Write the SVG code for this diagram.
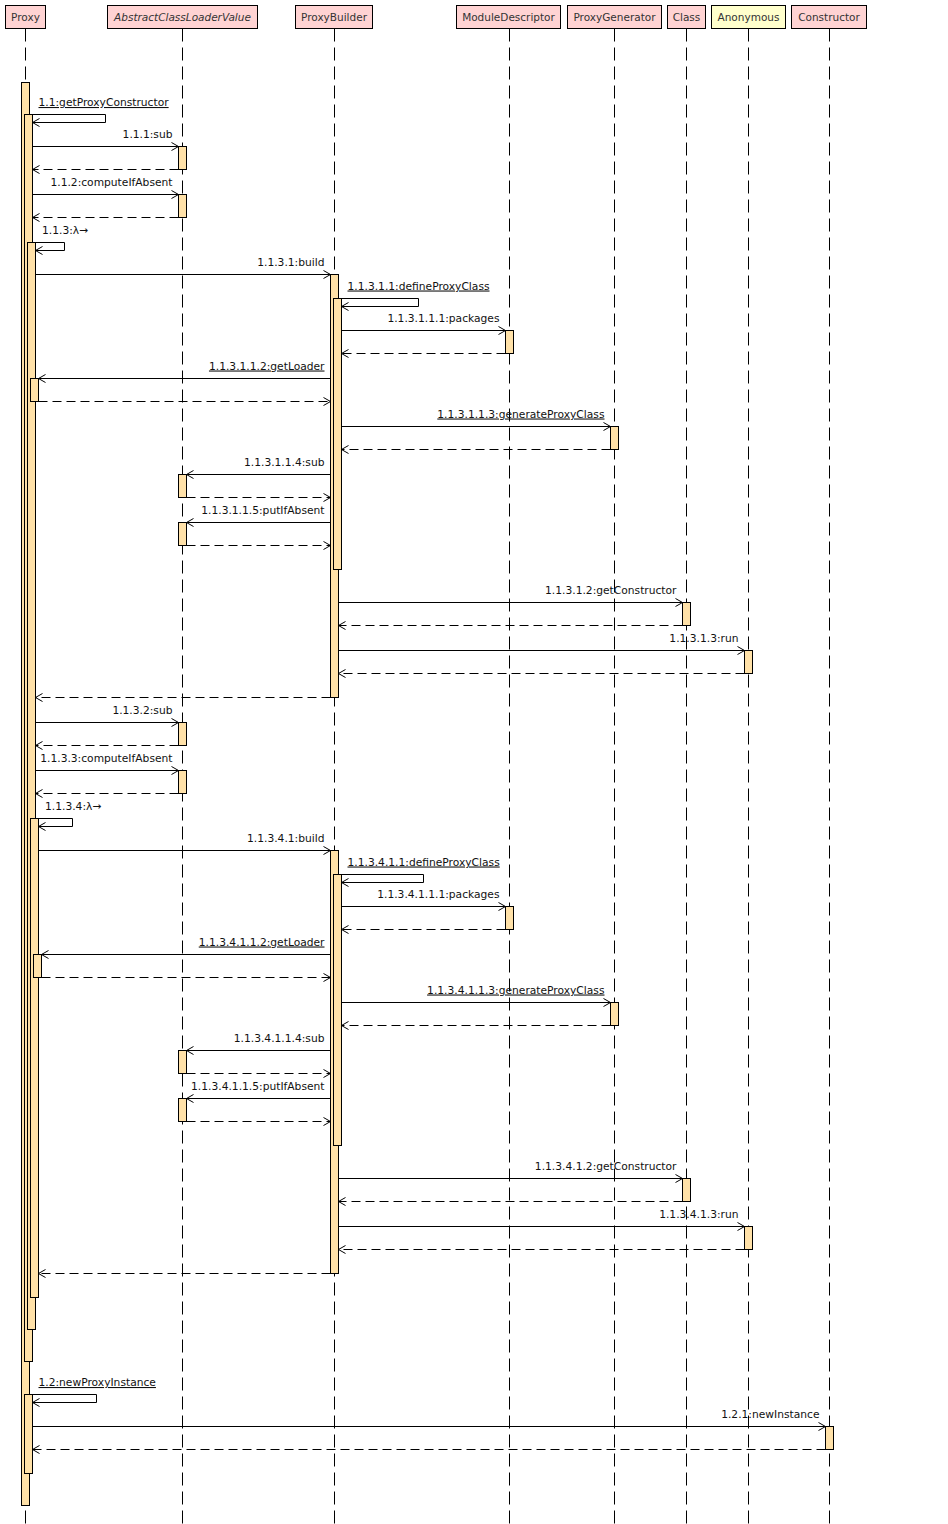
<svg xmlns="http://www.w3.org/2000/svg" width="948" height="1524" viewBox="0 0 948 1524">
<style>
.hd{fill:#FFD3D3;stroke:#000;stroke-width:1}
.hy{fill:#FFFFCC;stroke:#000;stroke-width:1}
.ht{font-family:"DejaVu Sans",sans-serif;font-size:10.5px;fill:#333;text-anchor:middle}
.ll{stroke:#000;stroke-width:1;stroke-dasharray:13 6;fill:none}
.bar{fill:#FFE1A8;stroke:#000;stroke-width:1}
.m{stroke:#000;stroke-width:1;fill:none;marker-end:url(#arr)}
.r{stroke:#000;stroke-width:1;fill:none;stroke-dasharray:9 5;marker-end:url(#arr)}
.t{font-family:"DejaVu Sans",sans-serif;font-size:10.7px;fill:#111}
.e{text-anchor:end}
.u{text-decoration:underline}
</style>
<defs>
<marker id="arr" markerUnits="userSpaceOnUse" markerWidth="10" markerHeight="10" viewBox="-8 -5 10 10" refX="0" refY="0" orient="auto" overflow="visible">
<path d="M-7,-4 L0,0 L-7,4" fill="none" stroke="#000" stroke-width="1"/>
</marker>
</defs>
<rect width="948" height="1524" fill="#fff"/>
<g id="lifelines">
<line class="ll" x1="25.5" y1="28.5" x2="25.5" y2="1524"/>
<line class="ll" x1="182.5" y1="28.5" x2="182.5" y2="1524"/>
<line class="ll" x1="334.5" y1="28.5" x2="334.5" y2="1524"/>
<line class="ll" x1="509.5" y1="28.5" x2="509.5" y2="1524"/>
<line class="ll" x1="614.5" y1="28.5" x2="614.5" y2="1524"/>
<line class="ll" x1="686.5" y1="28.5" x2="686.5" y2="1524"/>
<line class="ll" x1="748.5" y1="28.5" x2="748.5" y2="1524"/>
<line class="ll" x1="829.5" y1="28.5" x2="829.5" y2="1524"/>
</g>
<g id="Proxy">
<rect class="hd" x="5.5" y="5.5" width="40" height="23"/>
<text class="ht" x="25.5" y="21">Proxy</text>
<rect class="bar" x="21.5" y="82.5" width="8" height="1423"/>
<rect class="bar" x="24.5" y="114.5" width="8" height="1247"/>
<rect class="bar" x="27.5" y="242.5" width="8" height="1087"/>
<rect class="bar" x="30.5" y="378.5" width="8" height="23"/>
<rect class="bar" x="30.5" y="818.5" width="8" height="479"/>
<rect class="bar" x="33.5" y="954.5" width="8" height="23"/>
<rect class="bar" x="24.5" y="1394.5" width="8" height="79"/>
</g>
<g id="AbstractClassLoaderValue">
<rect class="hd" x="107.5" y="5.5" width="150" height="23"/>
<text class="ht" x="182.5" y="21" font-style="italic">AbstractClassLoaderValue</text>
<rect class="bar" x="178.5" y="146.5" width="8" height="23"/>
<rect class="bar" x="178.5" y="194.5" width="8" height="23"/>
<rect class="bar" x="178.5" y="474.5" width="8" height="23"/>
<rect class="bar" x="178.5" y="522.5" width="8" height="23"/>
<rect class="bar" x="178.5" y="722.5" width="8" height="23"/>
<rect class="bar" x="178.5" y="770.5" width="8" height="23"/>
<rect class="bar" x="178.5" y="1050.5" width="8" height="23"/>
<rect class="bar" x="178.5" y="1098.5" width="8" height="23"/>
</g>
<g id="ProxyBuilder">
<rect class="hd" x="295.5" y="5.5" width="77" height="23"/>
<text class="ht" x="334" y="21">ProxyBuilder</text>
<rect class="bar" x="330.5" y="274.5" width="8" height="423"/>
<rect class="bar" x="333.5" y="298.5" width="8" height="271"/>
<rect class="bar" x="330.5" y="850.5" width="8" height="423"/>
<rect class="bar" x="333.5" y="874.5" width="8" height="271"/>
</g>
<g id="ModuleDescriptor">
<rect class="hd" x="456.5" y="5.5" width="104" height="23"/>
<text class="ht" x="508.5" y="21">ModuleDescriptor</text>
<rect class="bar" x="505.5" y="330.5" width="8" height="23"/>
<rect class="bar" x="505.5" y="906.5" width="8" height="23"/>
</g>
<g id="ProxyGenerator">
<rect class="hd" x="567.5" y="5.5" width="94" height="23"/>
<text class="ht" x="614.5" y="21">ProxyGenerator</text>
<rect class="bar" x="610.5" y="426.5" width="8" height="23"/>
<rect class="bar" x="610.5" y="1002.5" width="8" height="23"/>
</g>
<g id="Class">
<rect class="hd" x="667.5" y="5.5" width="38" height="23"/>
<text class="ht" x="686.5" y="21">Class</text>
<rect class="bar" x="682.5" y="602.5" width="8" height="23"/>
<rect class="bar" x="682.5" y="1178.5" width="8" height="23"/>
</g>
<g id="Anonymous">
<rect class="hy" x="711.5" y="5.5" width="74" height="23"/>
<text class="ht" x="748.5" y="21">Anonymous</text>
<rect class="bar" x="744.5" y="650.5" width="8" height="23"/>
<rect class="bar" x="744.5" y="1226.5" width="8" height="23"/>
</g>
<g id="Constructor">
<rect class="hd" x="791.5" y="5.5" width="75" height="23"/>
<text class="ht" x="829" y="21">Constructor</text>
<rect class="bar" x="825.5" y="1426.5" width="8" height="23"/>
</g>
<g id="connectors">
<path class="m" d="M29.5,114.5 H105.5 V122.5 H32.5"/>
<text class="t u" x="38.5" y="106">1.1:getProxyConstructor</text>
<path class="m" d="M32.5,146.5 H178.5"/>
<text class="t e" x="172.5" y="137.5">1.1.1:sub</text>
<path class="r" d="M178.5,169.5 H32.5"/>
<path class="m" d="M32.5,194.5 H178.5"/>
<text class="t e" x="172.5" y="185.5">1.1.2:computeIfAbsent</text>
<path class="r" d="M178.5,217.5 H32.5"/>
<path class="m" d="M32.5,242.5 H64.5 V250.5 H35.5"/>
<text class="t" x="42" y="233.5">1.1.3:λ→</text>
<path class="m" d="M35.5,274.5 H330.5"/>
<text class="t e" x="324.5" y="265.5">1.1.3.1:build</text>
<path class="m" d="M338.5,298.5 H418.5 V306.5 H341.5"/>
<text class="t u" x="347.5" y="289.5">1.1.3.1.1:defineProxyClass</text>
<path class="m" d="M341.5,330.5 H505.5"/>
<text class="t e" x="499.5" y="321.5">1.1.3.1.1.1:packages</text>
<path class="r" d="M505.5,353.5 H341.5"/>
<path class="m" d="M330.5,378.5 H38.5"/>
<text class="t e u" x="324.5" y="369.5">1.1.3.1.1.2:getLoader</text>
<path class="r" d="M38.5,401.5 H330.5"/>
<path class="m" d="M341.5,426.5 H610.5"/>
<text class="t e u" x="604.5" y="417.5">1.1.3.1.1.3:generateProxyClass</text>
<path class="r" d="M610.5,449.5 H341.5"/>
<path class="m" d="M330.5,474.5 H186.5"/>
<text class="t e" x="324.5" y="465.5">1.1.3.1.1.4:sub</text>
<path class="r" d="M186.5,497.5 H330.5"/>
<path class="m" d="M330.5,522.5 H186.5"/>
<text class="t e" x="324.5" y="513.5">1.1.3.1.1.5:putIfAbsent</text>
<path class="r" d="M186.5,545.5 H330.5"/>
<path class="m" d="M338.5,602.5 H682.5"/>
<text class="t e" x="676.5" y="593.5">1.1.3.1.2:getConstructor</text>
<path class="r" d="M682.5,625.5 H338.5"/>
<path class="m" d="M338.5,650.5 H744.5"/>
<text class="t e" x="738.5" y="641.5">1.1.3.1.3:run</text>
<path class="r" d="M744.5,673.5 H338.5"/>
<path class="r" d="M330.5,697.5 H35.5"/>
<path class="m" d="M35.5,722.5 H178.5"/>
<text class="t e" x="172.5" y="713.5">1.1.3.2:sub</text>
<path class="r" d="M178.5,745.5 H35.5"/>
<path class="m" d="M35.5,770.5 H178.5"/>
<text class="t e" x="172.5" y="761.5">1.1.3.3:computeIfAbsent</text>
<path class="r" d="M178.5,793.5 H35.5"/>
<path class="m" d="M35.5,818.5 H72.5 V826.5 H38.5"/>
<text class="t" x="45" y="809.5">1.1.3.4:λ→</text>
<path class="m" d="M38.5,850.5 H330.5"/>
<text class="t e" x="324.5" y="841.5">1.1.3.4.1:build</text>
<path class="m" d="M338.5,874.5 H423.5 V882.5 H341.5"/>
<text class="t u" x="347.5" y="865.5">1.1.3.4.1.1:defineProxyClass</text>
<path class="m" d="M341.5,906.5 H505.5"/>
<text class="t e" x="499.5" y="897.5">1.1.3.4.1.1.1:packages</text>
<path class="r" d="M505.5,929.5 H341.5"/>
<path class="m" d="M330.5,954.5 H41.5"/>
<text class="t e u" x="324.5" y="945.5">1.1.3.4.1.1.2:getLoader</text>
<path class="r" d="M41.5,977.5 H330.5"/>
<path class="m" d="M341.5,1002.5 H610.5"/>
<text class="t e u" x="604.5" y="993.5">1.1.3.4.1.1.3:generateProxyClass</text>
<path class="r" d="M610.5,1025.5 H341.5"/>
<path class="m" d="M330.5,1050.5 H186.5"/>
<text class="t e" x="324.5" y="1041.5">1.1.3.4.1.1.4:sub</text>
<path class="r" d="M186.5,1073.5 H330.5"/>
<path class="m" d="M330.5,1098.5 H186.5"/>
<text class="t e" x="324.5" y="1089.5">1.1.3.4.1.1.5:putIfAbsent</text>
<path class="r" d="M186.5,1121.5 H330.5"/>
<path class="m" d="M338.5,1178.5 H682.5"/>
<text class="t e" x="676.5" y="1169.5">1.1.3.4.1.2:getConstructor</text>
<path class="r" d="M682.5,1201.5 H338.5"/>
<path class="m" d="M338.5,1226.5 H744.5"/>
<text class="t e" x="738.5" y="1217.5">1.1.3.4.1.3:run</text>
<path class="r" d="M744.5,1249.5 H338.5"/>
<path class="r" d="M330.5,1273.5 H38.5"/>
<path class="m" d="M29.5,1394.5 H96.5 V1402.5 H32.5"/>
<text class="t u" x="38.5" y="1386">1.2:newProxyInstance</text>
<path class="m" d="M32.5,1426.5 H825.5"/>
<text class="t e" x="819.5" y="1417.5">1.2.1:newInstance</text>
<path class="r" d="M825.5,1449.5 H32.5"/>
</g>
</svg>
